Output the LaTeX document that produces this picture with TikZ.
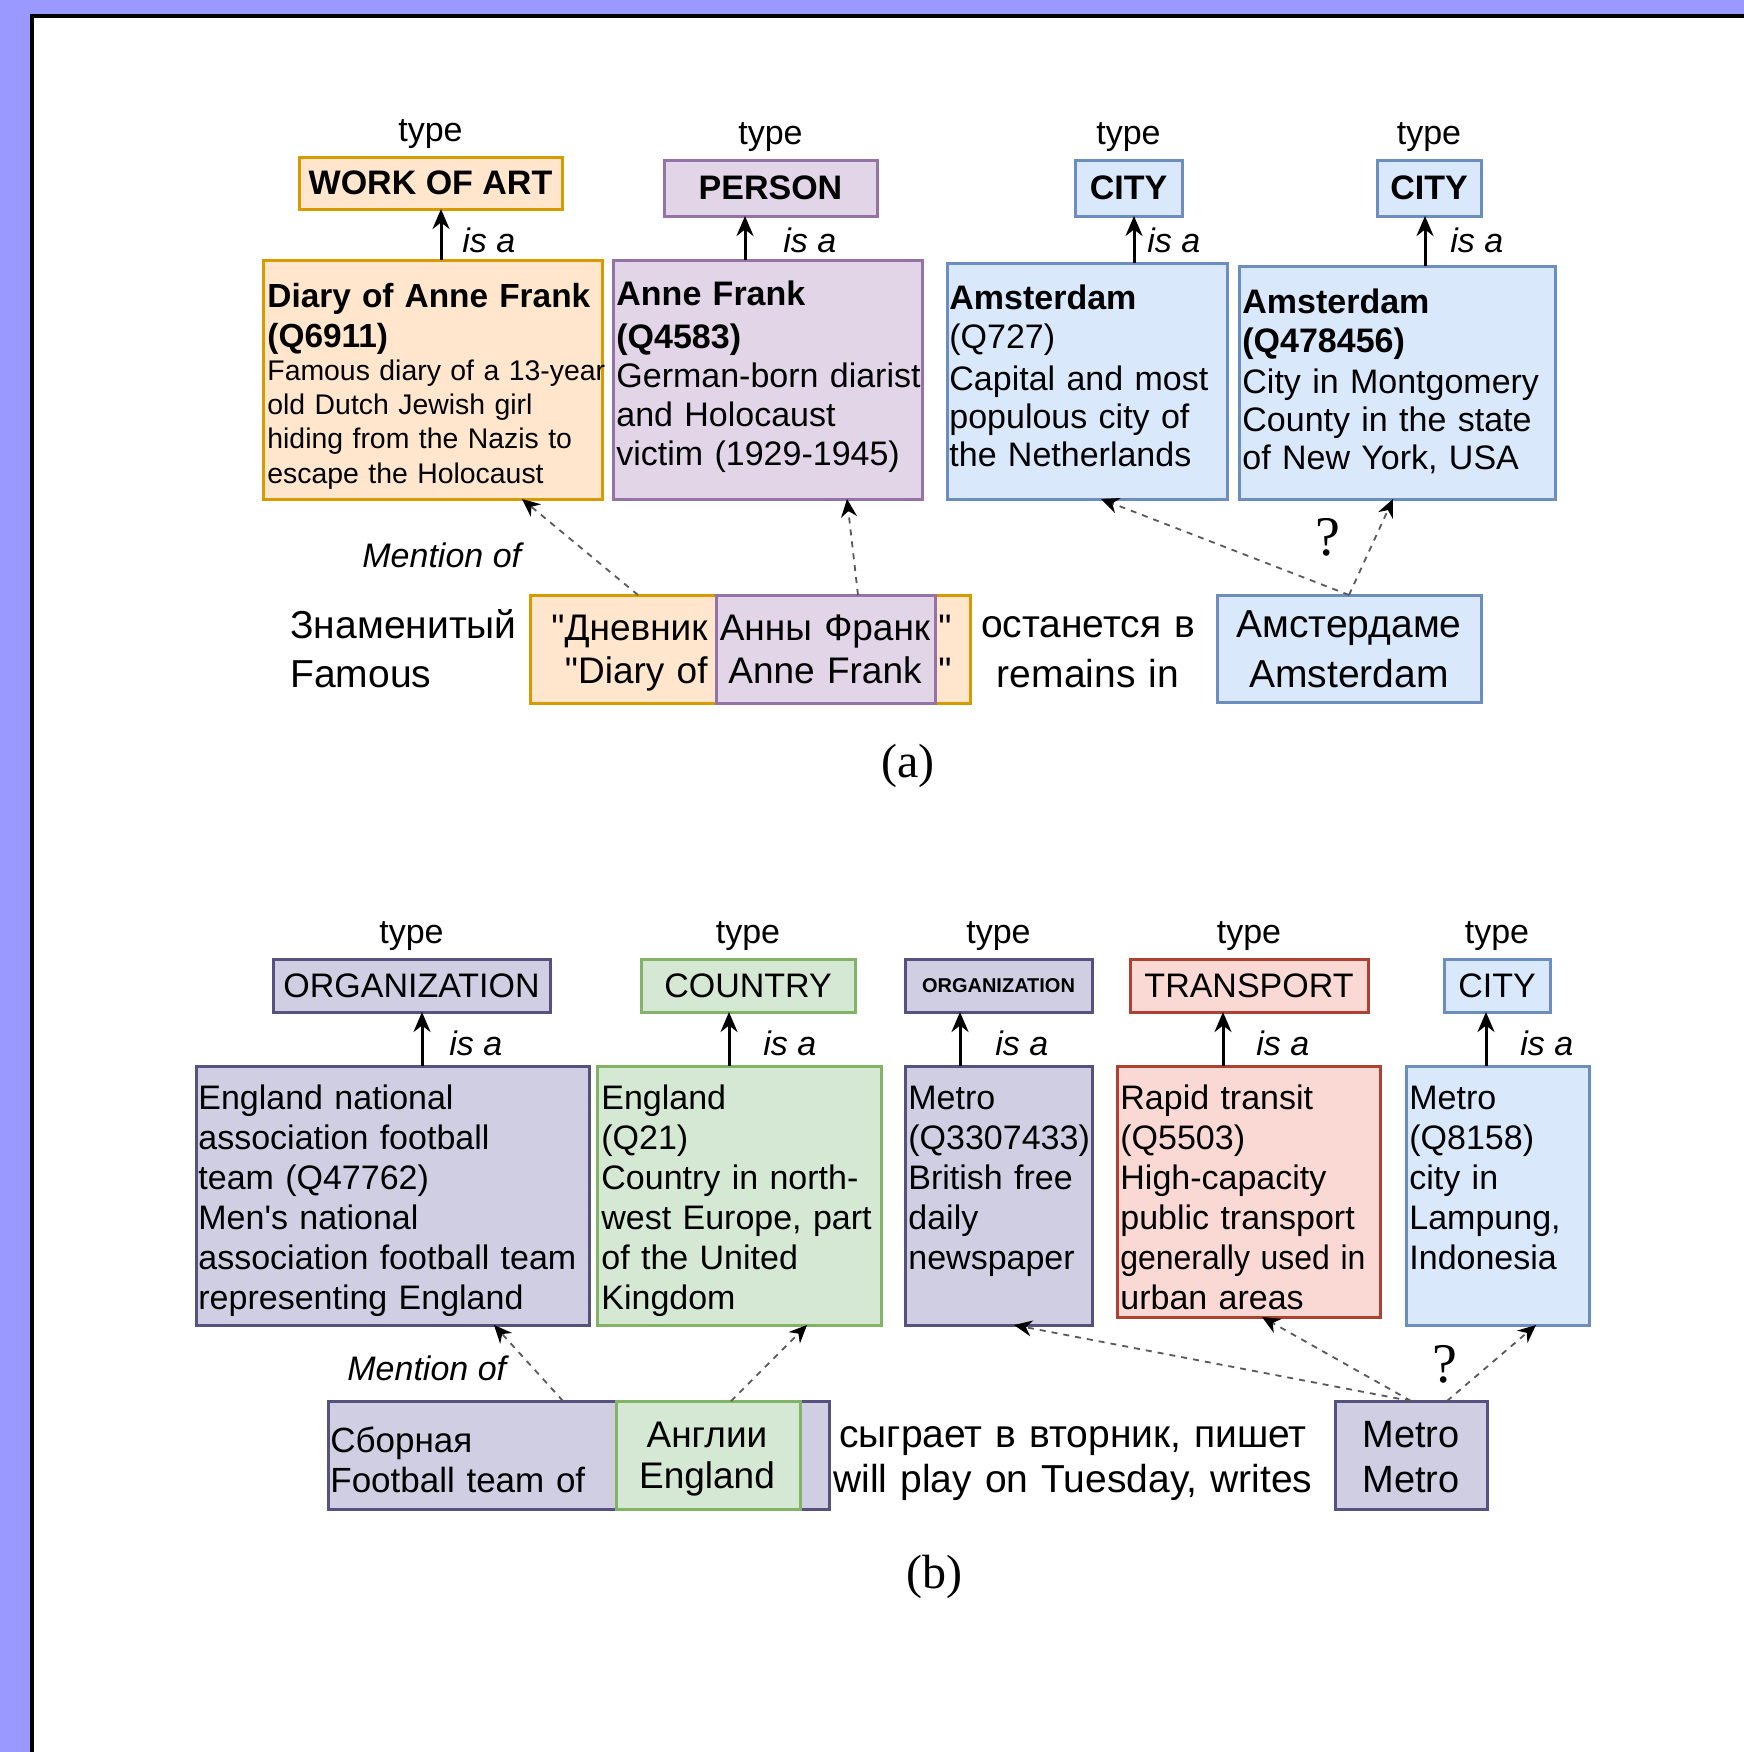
\documentclass[tikz,border=0pt]{standalone}
\usepackage{fontspec}
\setmainfont{Liberation Sans}
\newfontfamily\serifrm{Liberation Serif}
\newfontfamily\qfont[Ligatures=TeXOff]{Liberation Sans}
\usetikzlibrary{arrows.meta,fit,calc}
\newcommand\myfs[2]{\fontsize{#1}{#2}\selectfont}
\newcommand\dq{{\qfont\char"0022\relax}}
\definecolor{orF}{HTML}{FFE6CC}\definecolor{orD}{HTML}{D79B00}
\definecolor{puF}{HTML}{E1D5E7}\definecolor{puD}{HTML}{9673A6}
\definecolor{blF}{HTML}{DAE8FC}\definecolor{blD}{HTML}{6C8EBF}
\definecolor{grF}{HTML}{D5E8D4}\definecolor{grD}{HTML}{82B366}
\definecolor{dpF}{HTML}{D0CEE2}\definecolor{dpD}{HTML}{56517E}
\definecolor{reF}{HTML}{FAD9D5}\definecolor{reD}{HTML}{AE4132}
\definecolor{frameP}{HTML}{9999FF}
\tikzset{
  bx/.style={inner sep=0pt, outer sep=0pt, line width=1.5pt},
  orbox/.style={bx, fill=orF, draw=orD},
  pubox/.style={bx, fill=puF, draw=puD},
  blbox/.style={bx, fill=blF, draw=blD},
  grbox/.style={bx, fill=grF, draw=grD},
  dpbox/.style={bx, fill=dpF, draw=dpD},
  rebox/.style={bx, fill=reF, draw=reD},
  typeA/.style={font=\myfs{17}{20}\bfseries, inner sep=0pt, anchor=center},
  typeB/.style={font=\myfs{17}{20}, inner sep=0pt, anchor=center},
  tlab/.style={font=\myfs{17}{20}, inner sep=0pt, anchor=base},
  isalab/.style={font=\myfs{17}{20}\itshape, inner sep=0pt, anchor=base west},
  qlab/.style={font=\serifrm\myfs{28}{30}, inner sep=0pt, anchor=base},
  caplab/.style={font=\serifrm\myfs{24}{28}, inner sep=0pt, anchor=base},
  etext/.style={inner sep=0pt, anchor=base west, align=left, text width=190pt},
  ctext/.style={inner sep=0pt, anchor=base, align=center, text width=250pt},
  isa/.style={line width=1.5pt, -{Stealth[length=10pt,width=8.5pt]}},
  ment/.style={line width=0.9pt, draw=black!65, dash pattern=on 3pt off 3pt, -{Stealth[length=9pt,width=8pt,color=black]}},
}
\begin{document}
\begin{tikzpicture}[x=0.5pt,y=-0.5pt]
\useasboundingbox (0,0) rectangle (1744,1752);
\fill[white] (0,0) rectangle (1744,1752);
% frame
\fill[frameP] (0,0) rectangle (1744,14);
\fill[frameP] (0,0) rectangle (30,1752);
\draw[line width=2pt] (1744,16) -- (32,16) -- (32,1752);

% ================= (a) =================
\node[orbox, fit={(299,157) (562,209)}] (woa) {};
\node[pubox, fit={(664,160) (877,216)}] (person) {};
\node[blbox, fit={(1075,160) (1182,216)}] (city1) {};
\node[blbox, fit={(1377,160) (1481,216)}] (city2) {};
\node[typeA] (woa-l) at (woa.center) {WORK OF ART};
\node[typeA] (person-l) at (person.center) {PERSON};
\node[typeA] (city1-l) at (city1.center) {CITY};
\node[typeA] (city2-l) at (city2.center) {CITY};

\node[orbox, fit={(263,260) (602,499)}] (diary) {};
\node[pubox, fit={(613,260) (922,499)}] (anne) {};
\node[blbox, fit={(947,263) (1227,499)}] (ams1) {};
\node[blbox, fit={(1239,266) (1555,499)}] (ams2) {};

\node[etext, font=\myfs{16.7}{20}\bfseries] (diaryT) at (267,307) {Diary of Anne Frank\\(Q6911)};
\node[etext, font=\myfs{14.2}{17.2}] (diaryD) at (267,380) {Famous diary of a 13-year\\old Dutch Jewish girl\\hiding from the Nazis to\\escape the Holocaust};
\node[etext, font=\myfs{17}{21.5}\bfseries] (anneT) at (616,305) {Anne Frank\\(Q4583)};
\node[etext, font=\myfs{17}{19.5}] (anneD) at (616,387) {German-born diarist\\and Holocaust\\victim (1929-1945)};
\node[etext, font=\myfs{17}{19.5}] (ams1T) at (949,309) {\textbf{Amsterdam}\\(Q727)};
\node[etext, font=\myfs{17}{19}] (ams1D) at (949,390) {Capital and most\\populous city of\\the Netherlands};
\node[etext, font=\myfs{17}{19.5}\bfseries] (ams2T) at (1242,313) {Amsterdam\\(Q478456)};
\node[etext, font=\myfs{17}{19}] (ams2D) at (1242,393) {City in Montgomery\\County in the state\\of New York, USA};

\coordinate (xa1) at (441,0);
\coordinate (xa2) at (745,0);
\coordinate (xa3) at (1134,0);
\coordinate (xa4) at (1425,0);
\draw[isa] (diary.north -| xa1) -- (woa.south -| xa1);
\draw[isa] (anne.north -| xa2) -- (person.south -| xa2);
\draw[isa] (ams1.north -| xa3) -- (city1.south -| xa3);
\draw[isa] (ams2.north -| xa4) -- (city2.south -| xa4);
\node[isalab] (isa1) at (462,252) {is a};
\node[isalab] (isa2) at (783,252) {is a};
\node[isalab] (isa3) at (1147,252) {is a};
\node[isalab] (isa4) at (1450,252) {is a};

\node[etext, font=\myfs{19.5}{24.5}] (famous) at (290,638) {Знаменитый\\Famous};
\node[orbox, fit={(530,595) (970,703)}] (mdiary) {};
\node[pubox, fit={(716,595) (935,703)}] (manne) {};
\node[inner sep=0pt, anchor=base east, align=right, text width=100pt, font=\myfs{18.5}{21.5}] (mdiaryT) at (708,640) {\dq Дневник\\\dq Diary of};
\node[ctext, font=\myfs{18.5}{21.5}] (manneT) at (825,640) {Анны Франк\\Anne Frank};
\node[etext, text width=20pt, font=\myfs{18.5}{21.5}] (mq) at (938,640) {\dq\\\dq};
\node[ctext, font=\myfs{19.5}{25}] (remains) at (1088,637) {останется в\\remains in};
\node[blbox, fit={(1217,595) (1481,702)}] (mams) {};
\node[ctext, font=\myfs{19.5}{25}] (mamsT) at (1349,637) {Амстердаме\\Amsterdam};

\coordinate (m1s) at (638,0); \coordinate (m1e) at (522,0);
\coordinate (m2s) at (858,0); \coordinate (m2e) at (847,0);
\coordinate (m3e) at (1101,0); \coordinate (m4e) at (1393,0);
\draw[ment] (mdiary.north -| m1s) -- (diary.south -| m1e);
\draw[ment] (manne.north -| m2s) -- (anne.south -| m2e);
\draw[ment] (mams.north) -- (ams1.south -| m3e);
\draw[ment] (mams.north) -- (ams2.south -| m4e);
\node[isalab] (mo1) at (362,567) {Mention of};
\node[qlab] (q1) at (1328,555) {?};
\node[caplab] (capa) at (908,777) {(a)};

% ================= (b) =================
\node[dpbox, fit={(273,959) (550,1012)}] (org1) {};
\node[grbox, fit={(641,959) (855,1012)}] (country) {};
\node[dpbox, fit={(905,959) (1092,1012)}] (org2) {};
\node[rebox, fit={(1130,959) (1368,1012)}] (transport) {};
\node[blbox, fit={(1444,959) (1550,1012)}] (city3) {};
\node[typeB] (org1-l) at (org1.center) {ORGANIZATION};
\node[typeB] (country-l) at (country.center) {COUNTRY};
\node[typeB, font=\myfs{10}{12}\bfseries] (org2-l) at (org2.center) {ORGANIZATION};
\node[typeB] (transport-l) at (transport.center) {TRANSPORT};
\node[typeB] (city3-l) at (city3.center) {CITY};

\foreach \n in {woa,person,city1,city2,org1,country,org2,transport,city3}
  \node[tlab] (\n-t) at ($(\n.north)+(0,-16)$) {type};

\node[dpbox, fit={(196,1066) (589,1325)}] (football) {};
\node[grbox, fit={(597,1066) (881,1325)}] (england) {};
\node[dpbox, fit={(905,1066) (1092,1325)}] (metro1) {};
\node[rebox, fit={(1117,1066) (1380,1317)}] (rapid) {};
\node[blbox, fit={(1406,1066) (1589,1325)}] (metro2) {};

\node[etext, font=\myfs{17}{20}] (footballT) at (198,1109) {England national\\association football\\team (Q47762)\\Men{\qfont'}s national\\association football team\\representing England};
\node[etext, font=\myfs{17}{20}] (englandT) at (601,1109) {England\\(Q21)\\Country in north-\\west Europe, part\\of the United\\Kingdom};
\node[etext, font=\myfs{17}{20}] (metro1T) at (908,1109) {Metro\\(Q3307433)\\British free\\daily\\newspaper};
\node[etext, font=\myfs{17}{20}] (rapidT) at (1120,1109) {Rapid transit\\(Q5503)\\High-capacity\\public transport\\\scalebox{0.94}[1]{generally used in}\\urban areas};
\node[etext, font=\myfs{17}{20}] (metro2T) at (1409,1109) {Metro\\(Q8158)\\city in\\Lampung,\\Indonesia};

\coordinate (xb1) at (422,0);
\coordinate (xb2) at (729,0);
\coordinate (xb3) at (960,0);
\coordinate (xb4) at (1223,0);
\coordinate (xb5) at (1486,0);
\draw[isa] (football.north -| xb1) -- (org1.south -| xb1);
\draw[isa] (england.north -| xb2) -- (country.south -| xb2);
\draw[isa] (metro1.north -| xb3) -- (org2.south -| xb3);
\draw[isa] (rapid.north -| xb4) -- (transport.south -| xb4);
\draw[isa] (metro2.north -| xb5) -- (city3.south -| xb5);
\node[isalab] (isb1) at (449,1055) {is a};
\node[isalab] (isb2) at (763,1055) {is a};
\node[isalab] (isb3) at (995,1055) {is a};
\node[isalab] (isb4) at (1256,1055) {is a};
\node[isalab] (isb5) at (1520,1055) {is a};

\node[dpbox, fit={(328,1401) (829,1509)}] (mfoot) {};
\node[grbox, fit={(616,1401) (800,1509)}] (mengl) {};
\node[etext, font=\myfs{17.5}{20}] (mfootT) at (330,1452) {Сборная\\Football team of};
\node[ctext, font=\myfs{18.5}{20.5}] (menglT) at (707,1447) {Англии\\England};
\node[ctext, font=\myfs{19.5}{22.5}] (plays) at (1073,1447) {сыграет в вторник, пишет\\will play on Tuesday, writes};
\node[dpbox, fit={(1335,1401) (1487,1509)}] (mmetro) {};
\node[ctext, font=\myfs{19}{22.5}] (mmetroT) at (1411,1447) {Metro\\Metro};

\coordinate (m5s) at (563,0); \coordinate (m5e) at (494,0);
\coordinate (m6s) at (731,0); \coordinate (m6e) at (807,0);
\coordinate (m7e) at (1014,0); \coordinate (m8e) at (1262,0);
\coordinate (m9s) at (1447,0); \coordinate (m9e) at (1536,0);
\draw[ment] (mfoot.north -| m5s) -- (football.south -| m5e);
\draw[ment] (mengl.north -| m6s) -- (england.south -| m6e);
\draw[ment] (mmetro.north) -- (metro1.south -| m7e);
\draw[ment] (mmetro.north) -- (rapid.south -| m8e);
\draw[ment] (mmetro.north -| m9s) -- (metro2.south -| m9e);
\node[isalab] (mo2) at (347,1380) {Mention of};
\node[qlab] (q2) at (1445,1382) {?};
\node[caplab] (capb) at (934,1588) {(b)};
\end{tikzpicture}
\end{document}
